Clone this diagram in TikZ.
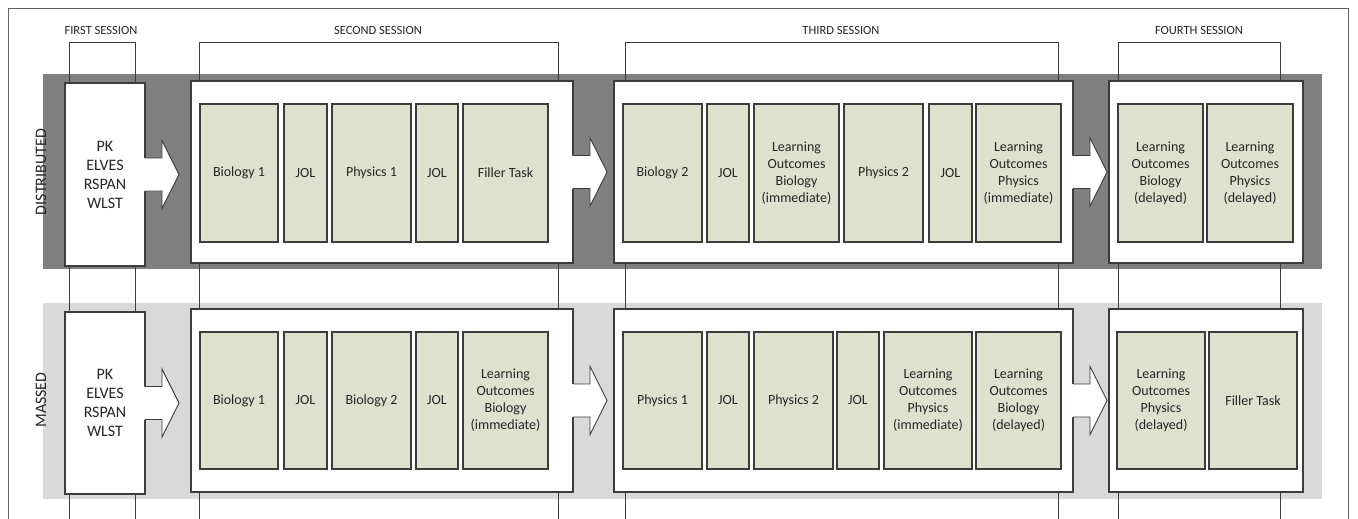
\documentclass[tikz,border=0pt]{standalone}
\usepackage{fontspec}
\setmainfont{Carlito}
\usetikzlibrary{calc}
\definecolor{darkband}{RGB}{128,128,128}
\definecolor{lightband}{RGB}{217,217,217}
\definecolor{greenfill}{RGB}{221,225,206}
\definecolor{edgegray}{RGB}{60,60,60}
\definecolor{textgray}{RGB}{38,38,38}
\tikzset{
  wbox/.style={draw=edgegray, line width=1.2pt, fill=white, inner sep=0pt, outer sep=0pt, align=center, text=textgray, font=\fontsize{16}{19}\selectfont},
  gbox/.style={draw=edgegray, line width=1.2pt, fill=greenfill, inner sep=0pt, outer sep=0pt, align=center, text=textgray, font=\fontsize{14}{17}\selectfont},
  bracket/.style={draw=edgegray, line width=0.9pt},
  sesslabel/.style={text=textgray, font=\fontsize{12.5}{14}\selectfont, inner sep=0pt},
  rowlabel/.style={text=textgray, font=\fontsize{16}{18}\selectfont, inner sep=0pt, rotate=90},
  arrowline/.style={draw=edgegray, line width=0.9pt, line join=miter},
}
\newcommand\mkbox[7]{\node[#1,minimum width={#5-#3},minimum height={#6-#4}] (#2) at ({(#3+#5)/2},{(#4+#6)/2}) {#7};}
\newcommand\fatarrow[1]{%
  \fill[white] ($(#1.east)+(-1.5,-16.5)$) -- ($(#1.east)+(17,-16.5)$) -- ($(#1.east)+(17,-34)$) -- ($(#1.east)+(34,0)$) -- ($(#1.east)+(17,34)$) -- ($(#1.east)+(17,16.5)$) -- ($(#1.east)+(-1.5,16.5)$) -- cycle;
  \draw[arrowline] ($(#1.east)+(0,-16.5)$) -- ($(#1.east)+(17,-16.5)$) -- ($(#1.east)+(17,-34)$) -- ($(#1.east)+(34,0)$) -- ($(#1.east)+(17,34)$) -- ($(#1.east)+(17,16.5)$) -- ($(#1.east)+(0,16.5)$);}
\begin{document}
\begin{tikzpicture}[x=1pt,y=-1pt]
\useasboundingbox (0,0) rectangle (1358,519);
\clip (0,0) rectangle (1358,519);
\fill[white] (0,0) rectangle (1358,519);
% outer frame
\draw[draw=edgegray!80, line width=1pt] (8,530) -- (8,9) -- (1348,9) -- (1348,530);
% bands
\fill[darkband] (43,74) rectangle (1322,269);
\fill[lightband] (43,303) rectangle (1322,499);
% session brackets
\draw[bracket] (69,530) -- (69,42) -- (135,42) -- (135,530);
\draw[bracket] (199,530) -- (199,42) -- (558,42) -- (558,530);
\draw[bracket] (625,530) -- (625,42) -- (1058,42) -- (1058,530);
\draw[bracket] (1118,530) -- (1118,42) -- (1280,42) -- (1280,530);
\node[sesslabel] (s1) at (101,30) {FIRST SESSION};
\node[sesslabel] (s2) at (378,30) {SECOND SESSION};
\node[sesslabel] (s3) at (841,30) {THIRD SESSION};
\node[sesslabel] (s4) at (1199,30) {FOURTH SESSION};
% row labels
\node[rowlabel] (rd) at (41,172) {DISTRIBUTED};
\node[rowlabel] (rm) at (41,400) {MASSED};
% session boxes
\mkbox{wbox}{d1}{65}{83}{145}{266}{PK\\ELVES\\RSPAN\\WLST}
\mkbox{wbox}{m1}{65}{312}{145}{494}{PK\\ELVES\\RSPAN\\WLST}
\mkbox{wbox}{d2}{191}{81}{573}{263}{}
\mkbox{wbox}{m2}{191}{309}{573}{492}{}
\mkbox{wbox}{d3}{614}{81}{1073}{263}{}
\mkbox{wbox}{m3}{614}{309}{1073}{492}{}
\mkbox{wbox}{d4}{1109}{81}{1303}{263}{}
\mkbox{wbox}{m4}{1109}{309}{1303}{492}{}
% arrows
\fatarrow{d1}\fatarrow{d2}\fatarrow{d3}
\fatarrow{m1}\fatarrow{m2}\fatarrow{m3}
% distributed tasks
\mkbox{gbox}{da1}{200}{104}{278}{242}{Biology 1}
\mkbox{gbox}{da2}{284}{104}{327}{242}{JOL}
\mkbox{gbox}{da3}{332}{104}{411}{242}{Physics 1}
\mkbox{gbox}{da4}{416}{104}{458}{242}{JOL}
\mkbox{gbox}{da5}{463}{104}{548}{242}{Filler Task}
\mkbox{gbox}{db1}{623}{104}{702}{242}{Biology 2}
\mkbox{gbox}{db2}{707}{104}{749}{242}{JOL}
\mkbox{gbox}{db3}{754}{104}{839}{242}{Learning\\Outcomes\\Biology\\(immediate)}
\mkbox{gbox}{db4}{844}{104}{923}{242}{Physics 2}
\mkbox{gbox}{db5}{929}{104}{972}{242}{JOL}
\mkbox{gbox}{db6}{976}{104}{1061}{242}{Learning\\Outcomes\\Physics\\(immediate)}
\mkbox{gbox}{dc1}{1118}{104}{1203}{242}{Learning\\Outcomes\\Biology\\(delayed)}
\mkbox{gbox}{dc2}{1207}{104}{1293}{242}{Learning\\Outcomes\\Physics\\(delayed)}
% massed tasks
\mkbox{gbox}{ma1}{200}{332}{278}{469}{Biology 1}
\mkbox{gbox}{ma2}{284}{332}{327}{469}{JOL}
\mkbox{gbox}{ma3}{332}{332}{411}{469}{Biology 2}
\mkbox{gbox}{ma4}{416}{332}{458}{469}{JOL}
\mkbox{gbox}{ma5}{463}{332}{548}{469}{Learning\\Outcomes\\Biology\\(immediate)}
\mkbox{gbox}{mb1}{623}{332}{702}{469}{Physics 1}
\mkbox{gbox}{mb2}{707}{332}{749}{469}{JOL}
\mkbox{gbox}{mb3}{754}{332}{833}{469}{Physics 2}
\mkbox{gbox}{mb4}{837}{332}{879}{469}{JOL}
\mkbox{gbox}{mb5}{884}{332}{972}{469}{Learning\\Outcomes\\Physics\\(immediate)}
\mkbox{gbox}{mb6}{976}{332}{1061}{469}{Learning\\Outcomes\\Biology\\(delayed)}
\mkbox{gbox}{mc1}{1117}{332}{1205}{469}{Learning\\Outcomes\\Physics\\(delayed)}
\mkbox{gbox}{mc2}{1209}{332}{1297}{469}{Filler Task}
\end{tikzpicture}
\end{document}
